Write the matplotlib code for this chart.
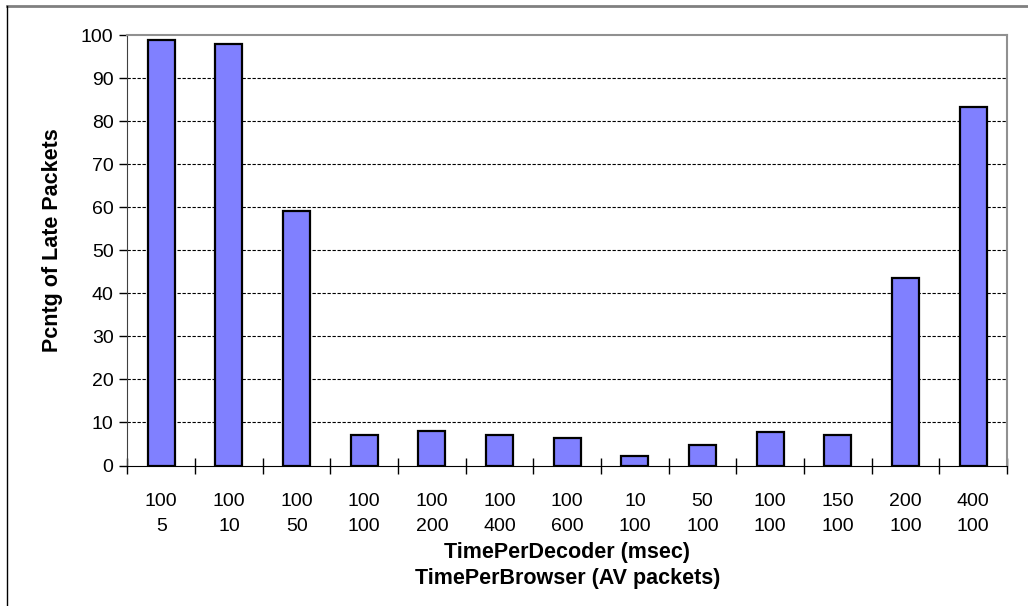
import matplotlib
matplotlib.use("Agg")
import matplotlib.pyplot as plt
from matplotlib.lines import Line2D
import numpy as np

decoder = ["100", "100", "100", "100", "100", "100", "100", "10", "50", "100", "150", "200", "400"]
browser = ["5", "10", "50", "100", "200", "400", "600", "100", "100", "100", "100", "100", "100"]
late_pct = [98.9, 97.9, 59.2, 7.1, 8.1, 7.1, 6.3, 2.1, 4.8, 7.8, 7.1, 43.6, 83.3]

BAR = "#8080ff"
FONT = ["Liberation Sans", "DejaVu Sans"]
plt.rcParams["font.family"] = FONT

fig = plt.figure(figsize=(10.28, 6.06), dpi=100)
ax = fig.add_axes([0.124, 0.2318, 0.8556, 0.7104])

x = np.arange(len(late_pct))
ax.bar(x, late_pct, width=0.4, color=BAR, edgecolor="black", linewidth=1.6, zorder=3)

ax.set_xlim(-0.5, len(late_pct) - 0.5)
ax.set_ylim(0, 100)
ax.set_yticks(np.arange(0, 101, 10))
ax.tick_params(axis="y", direction="out", length=6, width=1, labelsize=14, pad=4)
for v in range(10, 100, 10):
    ax.axhline(v, color="black", lw=0.8, ls=(0, (3, 1.5)), zorder=1)

# category labels at centres, tick marks at boundaries
ax.set_xticks(x, [f"{d}\n{b}" for d, b in zip(decoder, browser)], linespacing=1.6)
ax.set_xticks(np.arange(-0.5, len(late_pct), 1.0), minor=True)
ax.tick_params(axis="x", which="major", length=0, labelsize=14, pad=20)
ax.tick_params(axis="x", which="minor", direction="inout", length=12, width=1)

for side in ("top", "right"):
    ax.spines[side].set_color("#909090")
    ax.spines[side].set_linewidth(1.5)
ax.spines["left"].set_color("#404040")
ax.spines["bottom"].set_color("black")

ax.set_ylabel("Pcntg of Late Packets", fontsize=15.5, fontweight="bold")
ax.yaxis.set_label_coords(-0.073, 0.524)
ax.set_xlabel("TimePerDecoder (msec)\nTimePerBrowser (AV packets)", fontsize=15.5,
              fontweight="bold", linespacing=1.3, labelpad=5)

# chart-area frame (partly cut off in the original)
fig.add_artist(Line2D([7 / 1028, 1], [1 - 6 / 606, 1 - 6 / 606], color="#808080", lw=2,
                      transform=fig.transFigure))
fig.add_artist(Line2D([7 / 1028, 7 / 1028], [0, 1 - 6 / 606], color="black", lw=1,
                      transform=fig.transFigure))

fig.savefig("out.png", dpi=100)
